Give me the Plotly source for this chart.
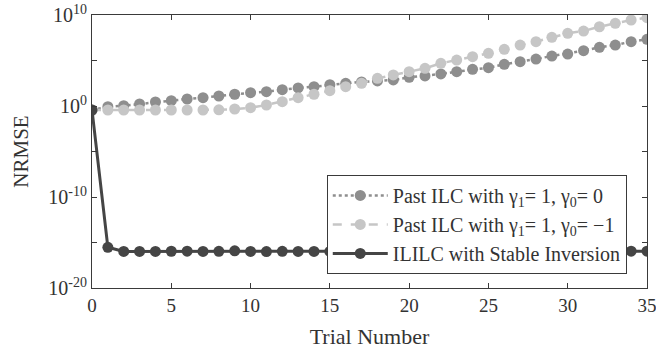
import plotly.graph_objects as go

trials = list(range(0, 36))

# log10(NRMSE)
log_past_g0_0 = [-0.44, -0.08, 0.03, 0.22, 0.44, 0.58, 0.77, 0.91, 1.10, 1.29,
                 1.46, 1.57, 1.79, 1.98, 2.12, 2.34, 2.49, 2.64, 2.75, 2.86,
                 3.15, 3.30, 3.52, 3.77, 4.03, 4.21, 4.58, 4.87, 5.16, 5.49,
                 5.71, 6.08, 6.45, 6.70, 7.07, 7.33]
log_past_g0_m1 = [-0.44, -0.44, -0.44, -0.44, -0.44, -0.44, -0.44, -0.44, -0.42, -0.33,
                  -0.19, 0.11, 0.47, 0.91, 1.29, 1.68, 2.12, 2.49, 3.04, 3.41,
                  3.77, 4.14, 4.69, 5.05, 5.42, 5.79, 6.23, 6.70, 7.07, 7.55,
                  7.99, 8.24, 8.71, 9.09, 9.45, 9.70]
log_ililc = [-0.44, -15.53, -15.98, -15.98, -15.98, -15.96, -15.95, -15.98, -15.97, -15.92,
             -15.98, -16.0, -15.97, -15.98, -15.98, -15.98, -15.97, -15.98, -15.98, -15.98,
             -15.98, -15.98, -15.98, -15.98, -15.98, -15.98, -15.98, -15.98, -15.98, -15.98,
             -15.98, -15.98, -15.98, -15.98, -15.95, -15.95]

past_g0_0 = [10 ** v for v in log_past_g0_0]
past_g0_m1 = [10 ** v for v in log_past_g0_m1]
ililc = [10 ** v for v in log_ililc]

names = ["Past ILC with γ<sub>1</sub>= 1, γ<sub>0</sub>= 0",
         "Past ILC with γ<sub>1</sub>= 1, γ<sub>0</sub>= −1",
         "ILILC with Stable Inversion"]

y_tickvals = [1e-20, 1e-10, 1e0, 1e10]
y_ticktext = ["10<sup>-20</sup>", "10<sup>-10</sup>", "10<sup>0</sup>", "10<sup>10</sup>"]
y_minor_tickvals = [1e-15, 1e-5, 1e5]
x_tickvals = [0, 5, 10, 15, 20, 25, 30, 35]

FONT = "Liberation Serif, Times New Roman, serif"
AX = "#3a3a3a"

fig = go.Figure()
fig.add_trace(go.Scatter(x=trials, y=past_g0_0, name=names[0], mode="lines+markers",
                         line=dict(color="#8e8e8e", width=2.5, dash="dot"),
                         marker=dict(size=11, color="#8e8e8e")))
fig.add_trace(go.Scatter(x=trials, y=past_g0_m1, name=names[1], mode="lines+markers",
                         line=dict(color="#c6c6c6", width=2.5, dash="dash"),
                         marker=dict(size=11, color="#c6c6c6")))
fig.add_trace(go.Scatter(x=trials, y=ililc, name=names[2], mode="lines+markers",
                         line=dict(color="#454545", width=3),
                         marker=dict(size=11, color="#454545")))

fig.update_layout(
    width=656, height=354,
    margin=dict(l=92, r=9, t=15, b=66),
    paper_bgcolor="white", plot_bgcolor="white",
    font=dict(family=FONT, size=19, color="#333333"),
    showlegend=True,
    legend=dict(x=0.423, y=0.414, xanchor="left", yanchor="top",
                bordercolor=AX, borderwidth=1, bgcolor="white",
                font=dict(family=FONT, size=20, color="#333333"),
                tracegroupgap=0, itemwidth=55),
    xaxis=dict(range=[0, 35], tickvals=x_tickvals,
               ticks="inside", ticklen=5, tickcolor=AX, showline=True, linecolor=AX,
               linewidth=1, mirror="ticks", showgrid=False, zeroline=False,
               automargin=False, ticklabeloverflow="allow", tickfont=dict(size=19),
               title=dict(text="Trial Number", font=dict(size=22), standoff=13)),
    yaxis=dict(type="log", range=[-20, 10], tickvals=y_tickvals, ticktext=y_ticktext,
               ticks="inside", ticklen=5, tickcolor=AX, showline=True, linecolor=AX,
               linewidth=1, mirror="ticks", showgrid=False, zeroline=False,
               minor=dict(tickmode="array", tickvals=y_minor_tickvals, ticks="inside",
                          ticklen=5, tickcolor=AX, showgrid=False),
               automargin=False, ticklabeloverflow="allow", tickfont=dict(size=20),
               title=dict(text="NRMSE", font=dict(size=21), standoff=13)),
)

# remove the default 8px page margin so the figure fills the window exactly
fig.write_html("out.html", config={"displayModeBar": False},
               post_script="document.body.style.margin='0px';")
